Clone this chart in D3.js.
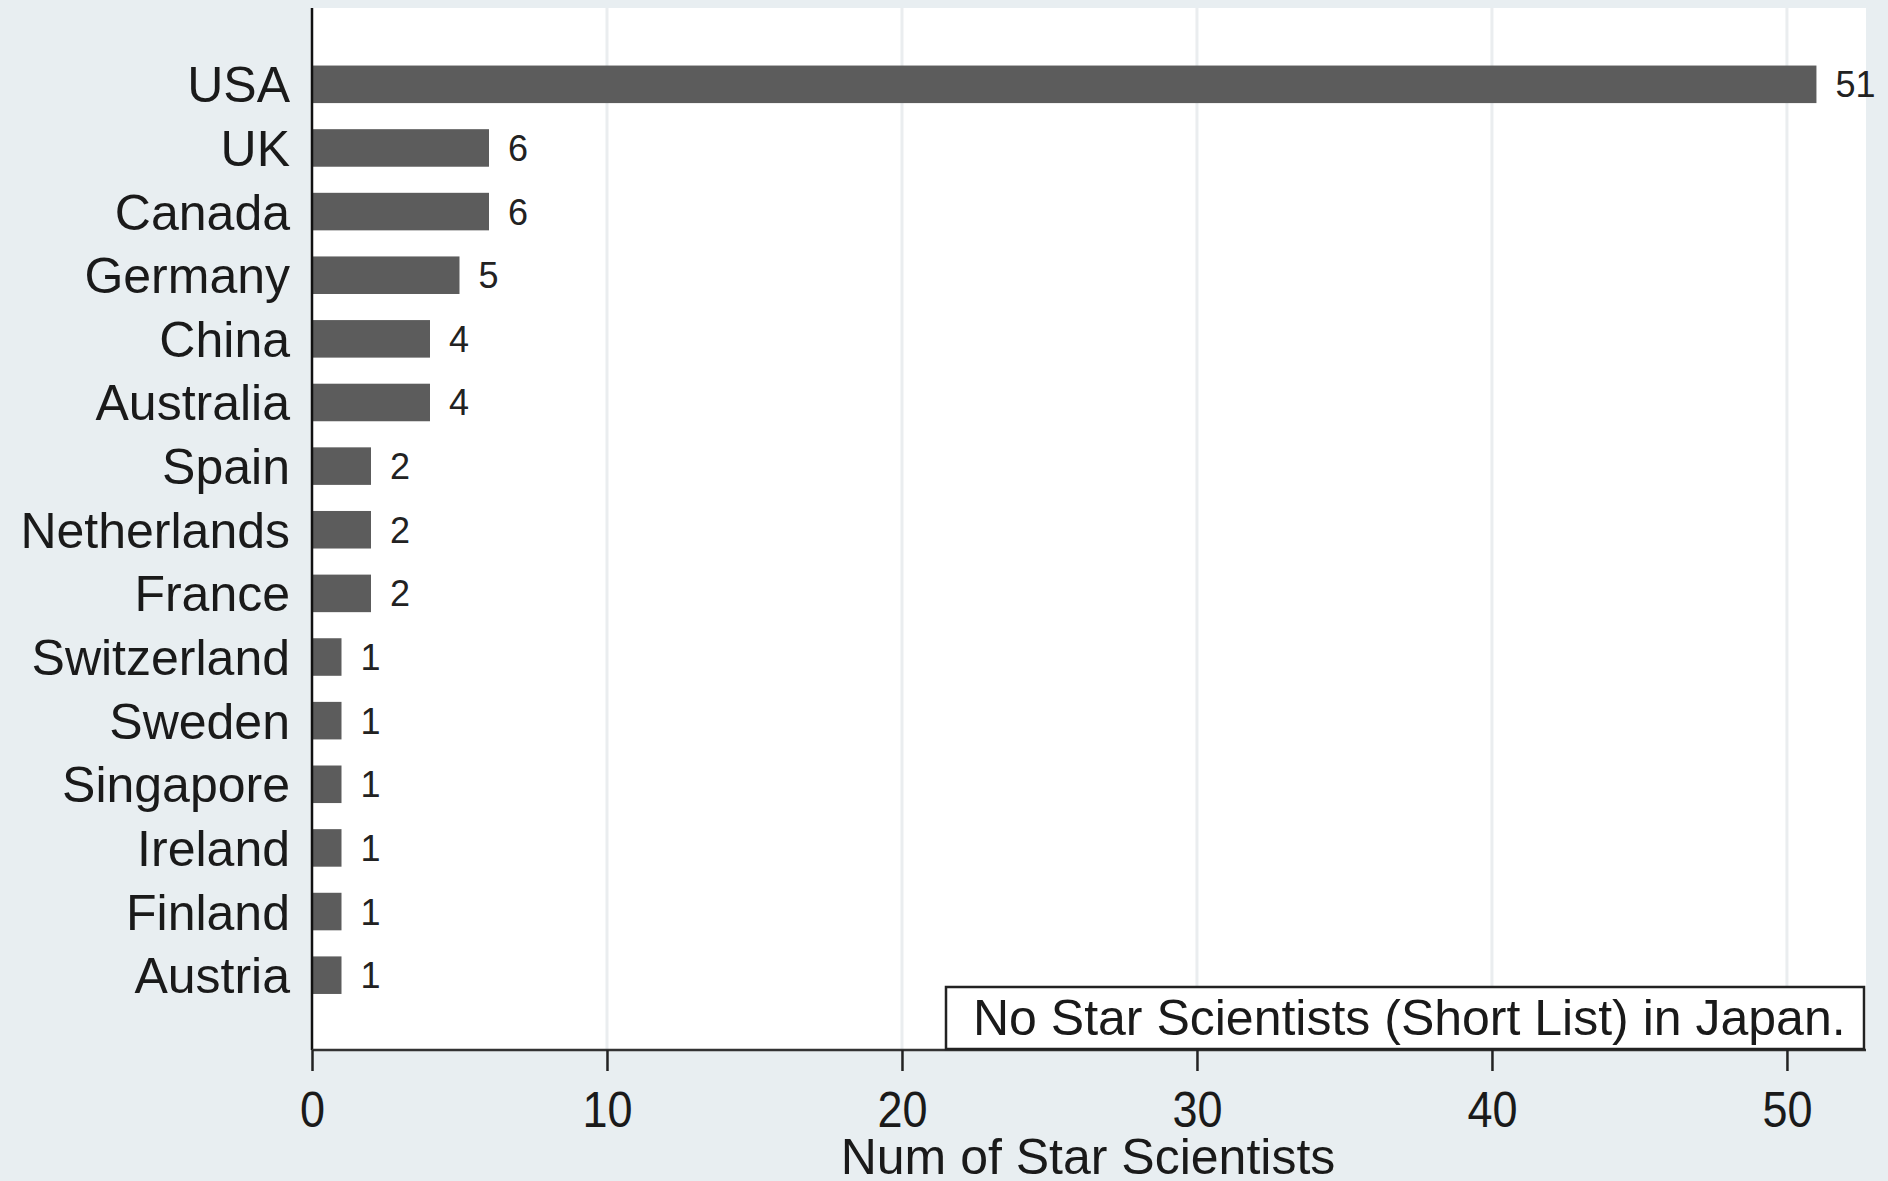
<!DOCTYPE html>
<html><head><meta charset="utf-8">
<script src="https://cdn.jsdelivr.net/npm/d3@7"></script>
<style>html,body{margin:0;padding:0;background:#e8eef1;}svg{display:block;}</style>
</head><body>
<script>
const countries = ["USA","UK","Canada","Germany","China","Australia","Spain","Netherlands","France","Switzerland","Sweden","Singapore","Ireland","Finland","Austria"];
const counts = [51,6,6,5,4,4,2,2,2,1,1,1,1,1,1];
const xTicks = [0,10,20,30,40,50];
const xTitle = "Num of Star Scientists";
const note = "No Star Scientists (Short List) in Japan.";

const W = 1888, H = 1181;
const plotL = 312, plotR = 1866, plotT = 8, plotB = 1050;
const xMax = 52.68;
const font = "'Liberation Sans', Arial, sans-serif";

const svg = d3.select("body").append("svg").attr("width", W).attr("height", H);
svg.append("rect").attr("width", W).attr("height", H).attr("fill", "#e8eef1");
svg.append("rect").attr("x", plotL).attr("y", plotT).attr("width", plotR - plotL).attr("height", plotB - plotT).attr("fill", "#ffffff");

const x = d3.scaleLinear().domain([0, xMax]).range([plotL, plotR]);
const y = d3.scaleBand().domain(countries).range([52.5, 1007]).paddingInner(0.41).paddingOuter(0.205);

// gridlines
svg.append("g").selectAll("line").data(xTicks.filter(t => t > 0)).join("line")
  .attr("x1", d => x(d)).attr("x2", d => x(d)).attr("y1", plotT).attr("y2", plotB)
  .attr("stroke", "#eaedef").attr("stroke-width", 3);

// bars
svg.append("g").selectAll("rect").data(countries).join("rect")
  .attr("x", x(0)).attr("y", d => y(d))
  .attr("width", (d, i) => x(counts[i]) - x(0)).attr("height", y.bandwidth())
  .attr("fill", "#5c5c5c");

// value labels
svg.append("g").selectAll("text").data(countries).join("text")
  .attr("x", (d, i) => x(counts[i]) + 19).attr("y", d => y(d) + y.bandwidth() / 2)
  .attr("dy", "0.36em").attr("font-family", font).attr("font-size", 36).attr("fill", "#222")
  .text((d, i) => counts[i]);

// category labels
svg.append("g").selectAll("text").data(countries).join("text")
  .attr("x", 290).attr("y", d => y(d) + y.bandwidth() / 2)
  .attr("dy", "0.36em").attr("text-anchor", "end").attr("font-family", font).attr("font-size", 50).attr("fill", "#1a1a1a")
  .text(d => d);

// y axis line
svg.append("line").attr("x1", plotL).attr("x2", plotL).attr("y1", plotT).attr("y2", plotB)
  .attr("stroke", "#111").attr("stroke-width", 2.5);

// x axis
const xAxis = d3.axisBottom(x).tickValues(xTicks).tickSize(21).tickPadding(21).tickFormat(d3.format("d"));
const gx = svg.append("g").attr("transform", `translate(0,${plotB})`).call(xAxis);
gx.select(".domain").attr("stroke", "#333").attr("stroke-width", 2.5).attr("d", `M${plotL},0H${plotR}`);
gx.selectAll(".tick line").attr("stroke", "#222").attr("stroke-width", 2.5);
gx.selectAll(".tick text").attr("font-family", font).attr("font-size", 50).attr("fill", "#1a1a1a")
  .attr("transform", "scale(0.9,1)");

svg.append("text").attr("x", 1088).attr("y", 1174).attr("text-anchor", "middle")
  .attr("font-family", font).attr("font-size", 50).attr("fill", "#1a1a1a").text(xTitle);

// note box
svg.append("rect").attr("x", 946).attr("y", 987).attr("width", 918).attr("height", 62)
  .attr("fill", "#fff").attr("stroke", "#222").attr("stroke-width", 2.5);
svg.append("text").attr("x", 973).attr("y", 1017).attr("dy", "0.36em")
  .attr("font-family", font).attr("font-size", 50).attr("fill", "#1a1a1a").text(note);
</script>
</body></html>
